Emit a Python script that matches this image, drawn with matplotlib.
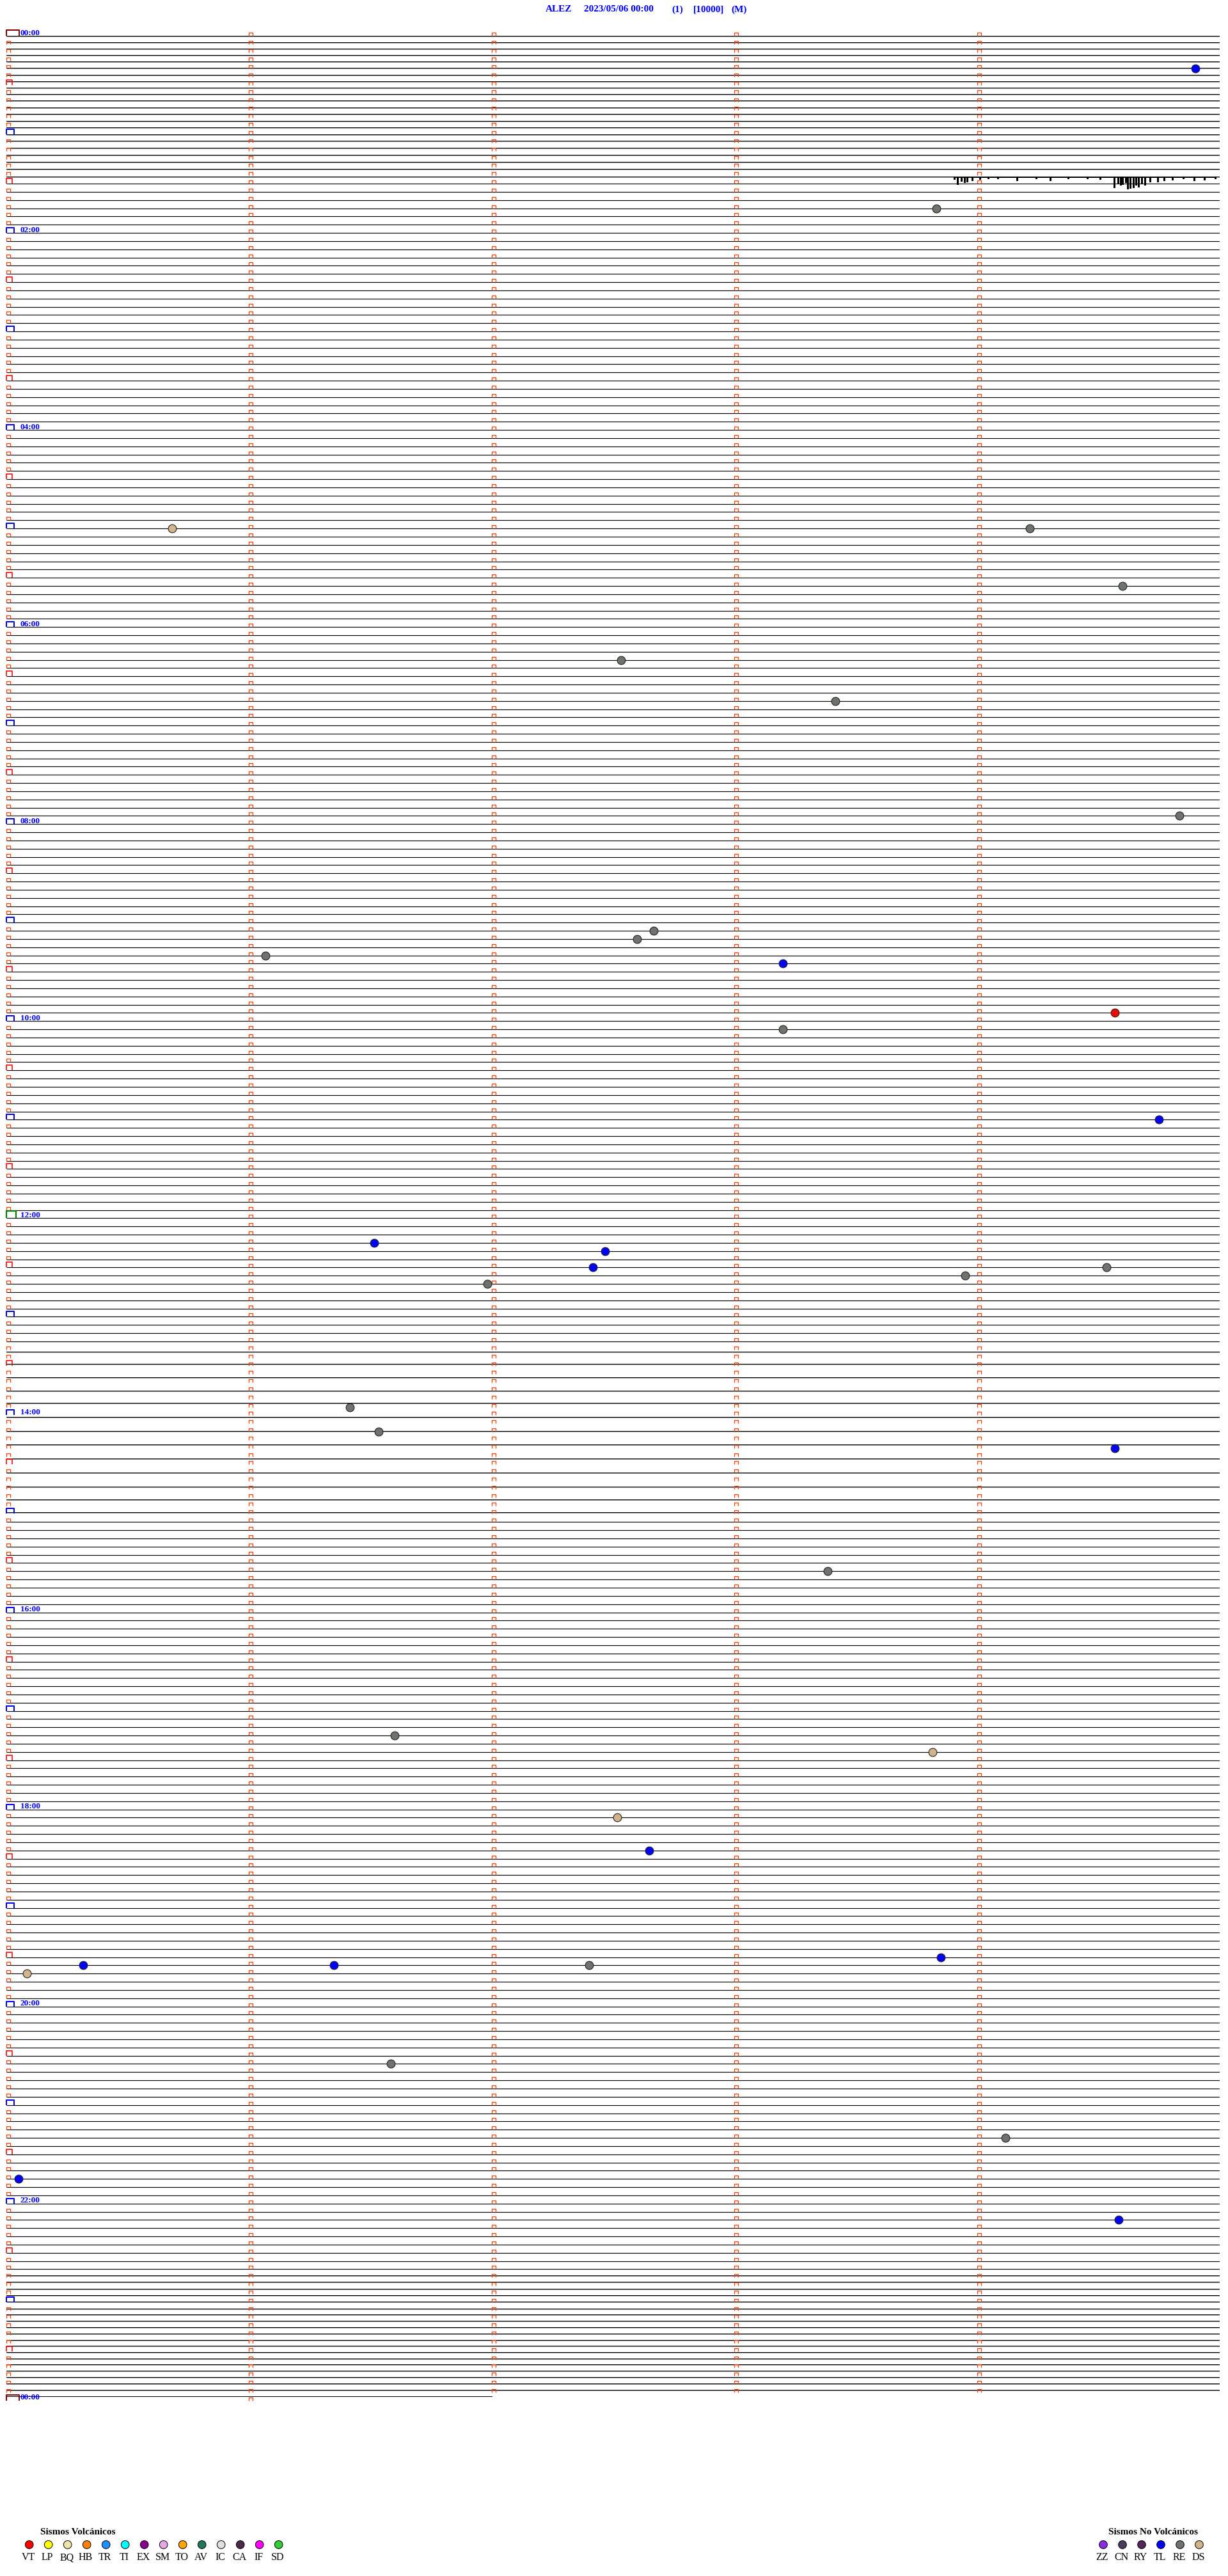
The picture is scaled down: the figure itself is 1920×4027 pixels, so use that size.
import numpy as np
import matplotlib.pyplot as plt
from matplotlib.path import Path

# Encabezado del sismograma
station = 'ALEZ'
start_label = '2023/05/06 00:00'
channel = '(1)'
gain = '[10000]'
component = '(M)'

minutes_per_line = 5
n_lines = 288            # 24 h a 5 min por línea
last_line_minutes = 2    # la línea de las 00:00 del día siguiente es corta

# Posición visible de las trazas (en unidades de línea) en los tramos con ruido
noisy_top_traces = range(0, 18)
noisy_top = [0.00, 0.78, 1.56, 2.34, 3.12, 3.90, 4.73, 5.51, 6.29, 7.09, 7.89,
             8.73, 9.53, 10.36, 11.16, 12.02, 12.80, 13.66, 14.51, 15.37, 16.20, 17.11]
noisy_mid_traces = range(160, 181)
noisy_mid = [160.27, 161.71, 163.39, 165.00, 166.46, 168.20, 169.89, 171.57,
             173.26, 174.95, 176.69, 178.25, 179.81]
noisy_end_traces = range(273, 289)
noisy_end = [272.77, 273.55, 274.38, 275.16, 275.96, 276.77, 277.52, 278.30,
             279.05, 279.83, 280.61, 281.31, 282.07, 282.85, 283.60, 284.36,
             285.14, 285.92, 286.70, 287.48]

# Ráfaga de picos en la traza de las 01:25 (minuto dentro de la línea, amplitud en líneas)
burst_line = 17.11
burst_min = [3.906, 3.919, 3.935, 3.948, 3.959, 3.980, 4.012, 4.046, 4.085, 4.164,
             4.244, 4.302, 4.375, 4.454, 4.507, 4.565, 4.581, 4.591, 4.599, 4.613,
             4.620, 4.631, 4.644, 4.655, 4.665, 4.679, 4.692, 4.713, 4.744, 4.771,
             4.805, 4.850, 4.894, 4.937, 4.982]
burst_amp = [0.31, 0.93, 0.55, 0.70, 0.62, 0.47, 0.31, 0.23, 0.23, 0.47,
             0.23, 0.47, 0.23, 0.23, 0.31, 1.32, 0.78, 1.01, 0.93, 0.70,
             1.48, 1.40, 1.32, 1.01, 1.25, 0.86, 1.01, 0.62, 0.62, 0.47,
             0.39, 0.23, 0.47, 0.39, 0.23]

# Eventos clasificados
event_times = ['00:24:54', '01:48:50', '05:00:41', '05:04:13', '05:39:36', '06:22:32',
               '06:48:25', '07:59:50', '09:21:04', '09:07:40', '09:12:36', '09:28:12',
               '09:59:34', '10:08:12', '11:04:45', '12:16:31', '12:22:28', '12:32:25',
               '12:38:57', '12:34:32', '12:41:59', '13:56:25', '14:11:32', '14:24:34',
               '15:38:23', '17:16:36', '17:28:49', '18:07:31', '18:27:39', '19:33:51',
               '19:35:19', '19:36:21', '19:37:24', '19:40:05', '20:36:35', '21:24:07',
               '21:45:03', '22:14:35']
event_types = ['TL', 'RE', 'DS', 'RE', 'RE', 'RE', 'RE', 'RE', 'RE', 'RE', 'RE', 'TL',
               'VT', 'RE', 'TL', 'TL', 'TL', 'TL', 'RE', 'RE', 'RE', 'RE', 'RE', 'TL',
               'RE', 'RE', 'DS', 'DS', 'TL', 'TL', 'TL', 'TL', 'RE', 'DS', 'RE', 'RE',
               'TL', 'TL']

# Leyenda
volc_types = ['VT', 'LP', 'BQ', 'HB', 'TR', 'TI', 'EX', 'SM', 'TO', 'AV', 'IC', 'CA', 'IF', 'SD']
volc_colors = ['#ff0000', '#ffff00', '#f3e4a8', '#ff8000', '#1e90ff', '#00ffff', '#8b008b',
               '#e8a8e8', '#ffa500', '#1f7a5c', '#e0e0e0', '#4a2a4a', '#ff00ff', '#32cd32']
novolc_types = ['ZZ', 'CN', 'RY', 'TL', 'RE', 'DS']
novolc_colors = ['#8a2be2', '#4a3a5e', '#55285a', '#0000ff', '#6e736e', '#d2b48c']
type_color = dict(zip(volc_types + novolc_types, volc_colors + novolc_colors))

W, H = 1920, 4027
PX = 0.72  # puntos por pixel a 100 dpi
serif = 'Liberation Serif'

fig = plt.figure(figsize=(W / 100, H / 100), dpi=100)
fig.patch.set_facecolor('white')

# Eje principal: x = minuto dentro de la línea, y = número de línea
top_px, step_px = 56, 12.836
ax = fig.add_axes([10 / W, 1 - (top_px + n_lines * step_px) / H,
                   1897 / W, n_lines * step_px / H])
ax.set_xlim(0, minutes_per_line)
ax.set_ylim(n_lines, 0)
ax.axis('off')

# Trazas tranquilas
hidden = set(noisy_top_traces) | set(noisy_mid_traces) | set(noisy_end_traces)
quiet = [k for k in range(n_lines + 1) if k not in hidden]
ends = [last_line_minutes if k == n_lines else minutes_per_line for k in quiet]
ax.hlines(quiet, 0, ends, color='black', lw=1.15 * PX)

# Trazas con ruido
for group in (noisy_top, noisy_mid, noisy_end[:-1]):
    ax.hlines(group, 0, minutes_per_line, color='black', lw=1.0 * PX, antialiased=False)
    ax.hlines(np.array(group) + 0.09, 0, minutes_per_line, color='#9a9a9a', lw=1.0 * PX)
ax.hlines(noisy_end[-1], 0, last_line_minutes, color='black', lw=1.0 * PX, antialiased=False)

# Ráfaga de picos
ax.hlines(burst_line + 0.09, burst_min[0], burst_min[-1], color='black', lw=1.0 * PX,
          antialiased=False)
ax.vlines(burst_min, burst_line, np.array(burst_line) + np.array(burst_amp),
          color='black', lw=1.2 * PX, antialiased=False)


def pulse(w, h):
    # forma ⊓ anclada en la esquina inferior izquierda
    s = max(w, h)
    verts = [(0, 0), (0, h / s), (w / s, h / s), (w / s, 0)]
    return Path(verts, [Path.MOVETO, Path.LINETO, Path.LINETO, Path.LINETO]), 2 * s * PX


def draw_pulses(xs, ys, w, h, color, lw):
    path, ms = pulse(w, h)
    ax.plot(xs, ys, ls='none', marker=path, ms=ms, mfc='none', mec=color,
            mew=lw * PX, clip_on=False)


# Marcas de minuto en cada línea
cols_x, cols_y = [], []
for k in range(n_lines + 1):
    span = last_line_minutes if k == n_lines else minutes_per_line
    for m in range(1, span):
        cols_x.append(m)
        cols_y.append(k)
draw_pulses(cols_x, cols_y, 6, 5, '#ff4000', 1.3)

# Marcas al inicio de cada línea
small = [k for k in range(n_lines + 1) if k % 6 != 0]
half = [k for k in range(n_lines + 1) if k % 6 == 0 and k % 12 != 0]
hour = [k for k in range(n_lines + 1) if k % 12 == 0 and k not in (0, 144, n_lines)]
draw_pulses([0] * len(small), small, 6, 5, '#ff4000', 1.3)
draw_pulses([0] * len(half), half, 9, 8, '#ff0000', 1.6)
draw_pulses([0] * len(hour), hour, 12, 8, '#0000ff', 2)
draw_pulses([0], [144], 15, 11, '#008000', 2.2)
draw_pulses([0, 0], [0, n_lines], 20, 9, '#8b0000', 2)

# Etiquetas horarias
for k in range(0, n_lines + 1, 24):
    ax.annotate(f'{(k // 12) % 24:02d}:00', (0, k), xytext=(22 * PX, 1.5 * PX),
                textcoords='offset points', ha='left', va='baseline', color='#0000ff',
                fontsize=9.5, fontweight='bold', family=serif, annotation_clip=False)

# Eventos
secs = np.array([int(t[:2]) * 3600 + int(t[3:5]) * 60 + int(t[6:]) for t in event_times])
ev_minutes = secs / 60.0
ev_line = np.floor(ev_minutes / minutes_per_line)
ev_x = ev_minutes - ev_line * minutes_per_line
for x, y, t in zip(ev_x, ev_line, event_types):
    ax.plot(x, y, 'o', ms=9.2, mfc=type_color[t], mec='#222222', mew=0.8, clip_on=False)

# Título
title_parts = [(853, station), (913, start_label), (1050, channel), (1084, gain), (1143, component)]
for xp, txt in title_parts:
    fig.text(xp / W, 1 - 18.5 / H, txt, ha='left', va='baseline', color='#0000ff',
             fontsize=11, fontweight='bold', family=serif)

# Leyenda inferior
lax = fig.add_axes([0, 0, 1, 1])
lax.set_xlim(0, W)
lax.set_ylim(H, 0)
lax.axis('off')

lax.text(63, 3962, 'Sismos Volcánicos', ha='left', va='baseline', fontsize=11,
         fontweight='bold', family=serif)
lax.text(1733, 3962, 'Sismos No Volcánicos', ha='left', va='baseline', fontsize=11,
         fontweight='bold', family=serif)

for x0, types, colors in ((45.7, volc_types, volc_colors), (1725, novolc_types, novolc_colors)):
    xs = x0 + 30 * np.arange(len(types))
    lax.scatter(xs, [3978] * len(xs), s=(9.1) ** 2, c=colors, edgecolors='black', linewidths=0.7)
    for x, lab in zip(xs, types):
        lax.text(x - 1.5, 4002, lab, ha='center', va='baseline', fontsize=11.5, family=serif)

fig.savefig('out.png', dpi=100, facecolor='white')
